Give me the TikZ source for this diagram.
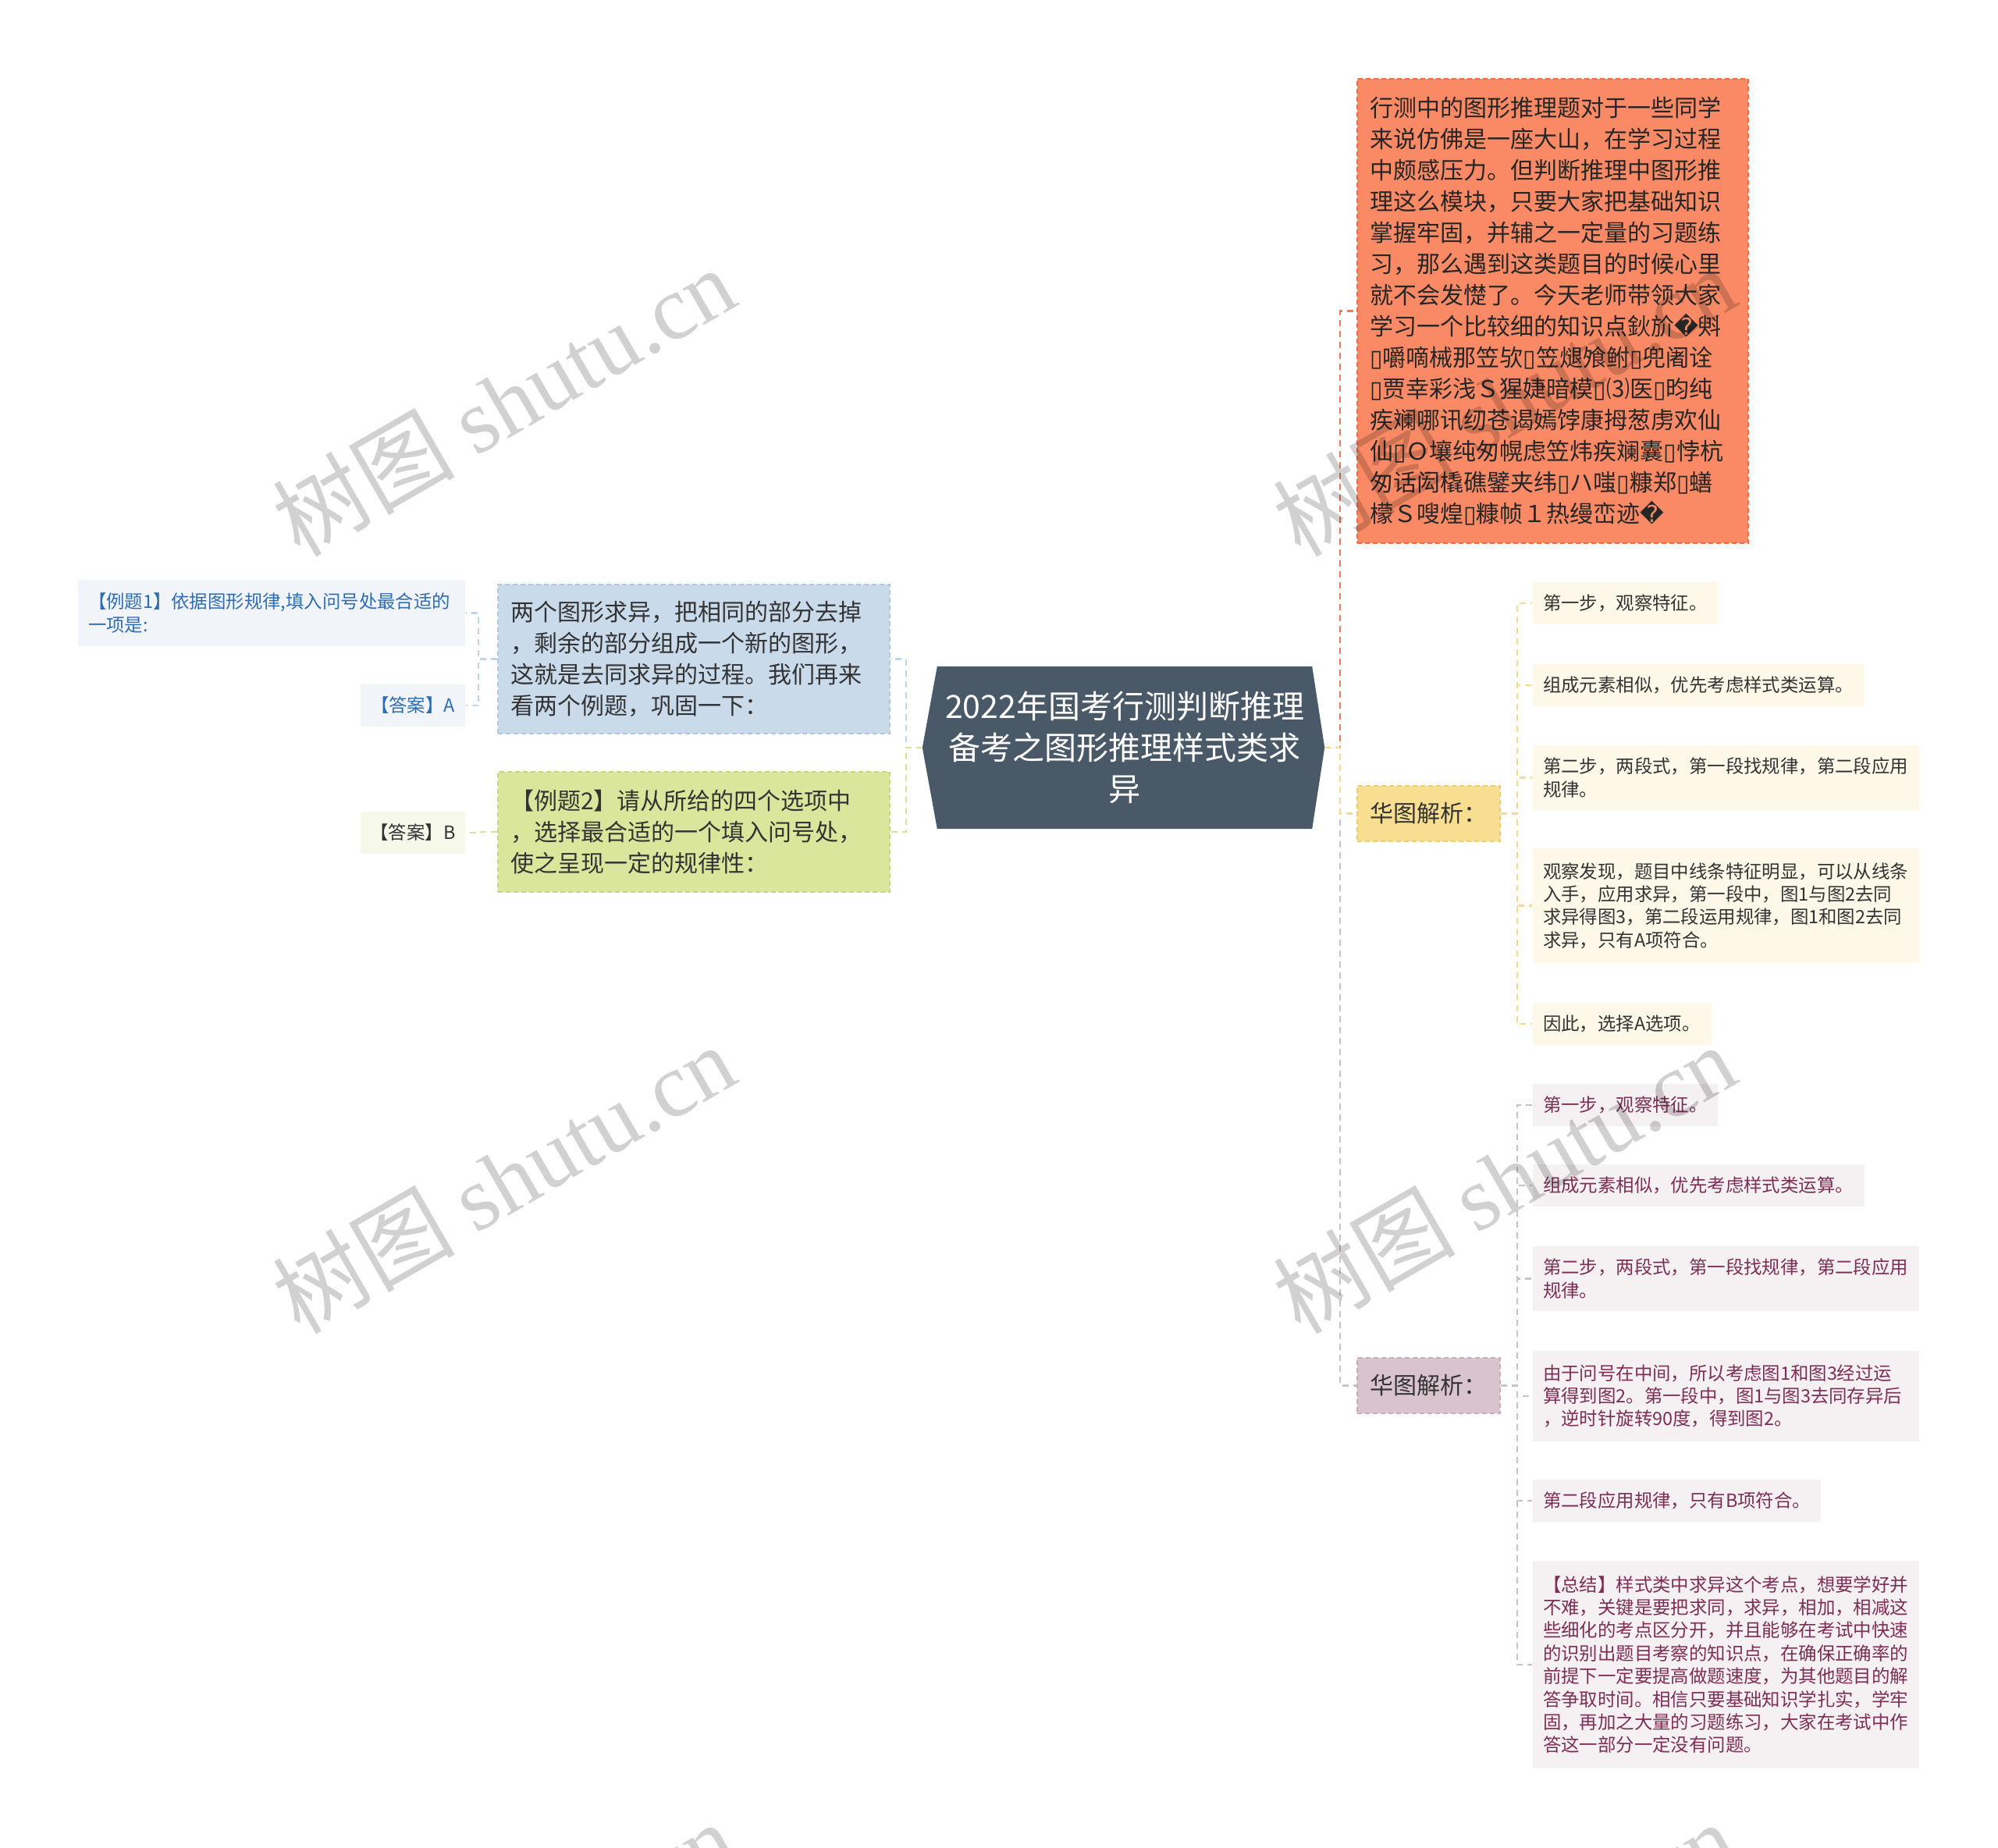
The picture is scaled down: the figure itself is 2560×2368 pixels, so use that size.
\documentclass[tikz,border=0pt]{standalone}
\usepackage{fontspec}
\setmainfont{Noto Sans CJK SC}
\newfontfamily\dvs{DejaVu Sans}
\newfontfamily\wmlat{Liberation Serif}
\usetikzlibrary{calc}
\pgfdeclarelayer{bg}
\pgfsetlayers{bg,main}
\newcommand{\bx}{{\dvs ▯}}
\newcommand{\rp}{{\dvs �}}
\definecolor{rootc}{HTML}{4A5968}
\definecolor{orangeF}{HTML}{FA8A65}
\definecolor{orangeD}{HTML}{EE6E48}
\definecolor{orangeL}{HTML}{EF7A55}
\definecolor{blueF}{HTML}{C9DAEB}
\definecolor{blueD}{HTML}{AFC7DF}
\definecolor{blueL}{HTML}{C2D5E8}
\definecolor{blueT}{HTML}{2E6DB4}
\definecolor{paleblue}{HTML}{F1F5FA}
\definecolor{greenF}{HTML}{D9E69C}
\definecolor{greenD}{HTML}{C6D67C}
\definecolor{greenL}{HTML}{D6E3A0}
\definecolor{palegreen}{HTML}{F6F8EA}
\definecolor{goldF}{HTML}{F8DE90}
\definecolor{goldD}{HTML}{ECCD6A}
\definecolor{goldL}{HTML}{F2DC90}
\definecolor{creamF}{HTML}{FDF8E8}
\definecolor{mauveF}{HTML}{D9C4CD}
\definecolor{mauveD}{HTML}{C8AEB9}
\definecolor{mauveL}{HTML}{CDC1C6}
\definecolor{mistF}{HTML}{F5F0F2}
\definecolor{mauveT}{HTML}{7D2E55}
\definecolor{darkT}{HTML}{333333}
\tikzset{
  box/.style={rectangle, inner xsep=16pt, inner ysep=0pt, align=left, text=darkT,
    dash pattern=on 6pt off 4pt, line width=1.6pt},
  big/.style={font=\fontsize{30pt}{40pt}\selectfont},
  small/.style={font=\fontsize{23.4pt}{29.4pt}\selectfont, inner xsep=13pt},
  link/.style={dash pattern=on 8pt off 6pt, line width=2.4pt},
  ychild/.style={box, small, fill=creamF, minimum height=54pt},
  mchild/.style={box, small, fill=mistF, text=mauveT, minimum height=54pt},
  wm/.style={text=black, text opacity=0.18, rotate=30, font=\fontsize{117pt}{117pt}\selectfont, inner sep=0pt},
}
\begin{document}
\begin{tikzpicture}[x=1pt,y=-1pt]
\useasboundingbox (0,0) rectangle (2560,2368);
\clip (0,0) rectangle (2560,2368);
\begin{pgfonlayer}{bg}
\fill[white] (0,0) rectangle (2560,2368);
\end{pgfonlayer}

% root
\node[font=\fontsize{41pt}{53pt}\selectfont, text=white, align=center,
      minimum width=480pt, minimum height=208pt, inner sep=0pt] (root) at (1441,958)
  {2022年国考行测判断推理\\备考之图形推理样式类求\\异};
\coordinate (rootR) at ($(root.east)+(16,0)$);
\coordinate (rootL) at ($(root.west)+(-19,0)$);
\begin{pgfonlayer}{bg}
\fill[rootc] (root.north west) -- (root.north east) -- (rootR) -- (root.south east)
  -- (root.south west) -- (rootL) -- cycle;
\end{pgfonlayer}

% left side
\node[box, big, fill=blueF, draw=blueD, minimum width=502pt, minimum height=191pt, text width=470pt]
  (blue) at (889,844.5)
  {两个图形求异，把相同的部分去掉\\，剩余的部分组成一个新的图形，\\这就是去同求异的过程。我们再来\\看两个例题，巩固一下：};
\node[box, big, fill=greenF, draw=greenD, minimum width=502pt, minimum height=154pt, text width=470pt]
  (green) at (889,1066)
  {【例题2】请从所给的四个选项中\\，选择最合适的一个填入问号处，\\使之呈现一定的规律性：};
\node[box, small, fill=paleblue, text=blueT, minimum width=496pt, minimum height=85pt, text width=470pt]
  (ex1) at (348,785.5)
  {【例题1】依据图形规律,填入问号处最合适的\\一项是:};
\node[box, small, fill=paleblue, text=blueT, minimum width=134pt, minimum height=54pt, align=center, inner xsep=4pt]
  (ansA) at (529,904) {【答案】A};
\node[box, small, fill=palegreen, minimum width=134pt, minimum height=54pt, align=center, inner xsep=4pt]
  (ansB) at (529,1067) {【答案】B};

% right side
\node[box, big, fill=orangeF, draw=orangeD, text=black!85, minimum width=501pt, minimum height=595pt, text width=469pt]
  (orange) at (1989.5,398.5)
  {行测中的图形推理题对于一些同学\\来说仿佛是一座大山，在学习过程\\中颇感压力。但判断推理中图形推\\理这么模块，只要大家把基础知识\\掌握牢固，并辅之一定量的习题练\\习，那么遇到这类题目的时候心里\\就不会发憷了。今天老师带领大家\\学习一个比较细的知识点鈥斺\rp 斞\\\bx 嚼嘀械那笠欤\bx 笠煺飧鲋\bx 兜阇诠\\\bx 贾幸彩浅Ｓ猩婕暗模\bx ⑶医\bx 昀纯\\疾斓哪讯纫苍谒嫣饽康拇葱虏欢仙\\仙\bx Ｏ壤纯匆幌虑笠炜疾斓囊\bx 悖杭\\匆话闳橇礁鐾夹纬\bx ハ嗤\bx 糠郑\bx 蟮\\檬Ｓ嗖煌\bx 糠帧１热缦峦迹\rp};

\node[box, big, fill=goldF, draw=goldD, minimum width=183pt, minimum height=71pt, align=center, inner xsep=4pt]
  (y0) at (1830.5,1042.5) {华图解析：};
\node[box, big, fill=mauveF, draw=mauveD, minimum width=183pt, minimum height=71pt, align=center, inner xsep=4pt]
  (m0) at (1830.5,1775.5) {华图解析：};

\node[ychild, minimum width=237pt, text width=211pt] (c1) at (2082.5,773) {第一步，观察特征。};
\node[ychild, minimum width=425pt, text width=399pt] (c2) at (2176.5,878) {组成元素相似，优先考虑样式类运算。};
\node[ychild, minimum width=495pt, minimum height=83pt, text width=469pt] (c3) at (2211.5,996.5)
  {第二步，两段式，第一段找规律，第二段应用\\规律。};
\node[ychild, minimum width=495pt, minimum height=147pt, text width=469pt] (c4) at (2211.5,1160.5)
  {观察发现，题目中线条特征明显，可以从线条\\入手，应用求异，第一段中，图1与图2去同\\求异得图3，第二段运用规律，图1和图2去同\\求异，只有A项符合。};
\node[ychild, minimum width=229pt, text width=203pt] (c5) at (2078.5,1312) {因此，选择A选项。};

\node[mchild, minimum width=237pt, text width=211pt] (d1) at (2082.5,1416) {第一步，观察特征。};
\node[mchild, minimum width=425pt, text width=399pt] (d2) at (2176.5,1519) {组成元素相似，优先考虑样式类运算。};
\node[mchild, minimum width=495pt, minimum height=83pt, text width=469pt] (d3) at (2211.5,1638.5)
  {第二步，两段式，第一段找规律，第二段应用\\规律。};
\node[mchild, minimum width=495pt, minimum height=116pt, text width=469pt] (d4) at (2211.5,1789)
  {由于问号在中间，所以考虑图1和图3经过运\\算得到图2。第一段中，图1与图3去同存异后\\，逆时针旋转90度，得到图2。};
\node[mchild, minimum width=369pt, text width=343pt] (d5) at (2148.5,1923) {第二段应用规律，只有B项符合。};
\node[mchild, minimum width=495pt, minimum height=266pt, text width=469pt] (d6) at (2211.5,2133)
  {【总结】样式类中求异这个考点，想要学好并\\不难，关键是要把求同，求异，相加，相减这\\些细化的考点区分开，并且能够在考试中快速\\的识别出题目考察的知识点，在确保正确率的\\前提下一定要提高做题速度，为其他题目的解\\答争取时间。相信只要基础知识学扎实，学牢\\固，再加之大量的习题练习，大家在考试中作\\答这一部分一定没有问题。};

% connectors
\draw[link, orangeL] (rootR) -- ++(20,0) |- (orange.west);
\draw[link, mauveL] (rootR) -- ++(20,0) |- (m0.west);
\draw[link, goldL] (rootR) -- ++(20,0) |- (y0.west);
\draw[link, blueL] (rootL) -- ++(-21,0) |- (blue.east);
\draw[link, greenL] (rootL) -- ++(-21,0) |- (green.east);
\draw[link, blueL] (blue.west) -- ++(-24,0) |- (ex1.east);
\draw[link, blueL] (blue.west) -- ++(-24,0) |- (ansA.east);
\draw[link, greenL] (green.west) -- ++(-21,0) |- (ansB.east);
\foreach \c in {c1,c2,c3,c4,c5}
  \draw[link, goldL] (y0.east) -- ++(21,0) |- (\c.west);
\foreach \c in {d1,d2,d3,d4,d5,d6}
  \draw[link, mauveL] (m0.east) -- ++(21,0) |- (\c.west);

% watermarks
\node[wm] (wm1) at (645,514) {树图 {\wmlat shutu.cn}};
\node[wm] (wm2) at (645,1510) {树图 {\wmlat shutu.cn}};
\node[wm] (wm3) at (1927,514) {树图 {\wmlat shutu.cn}};
\node[wm] (wm4) at (1927,1510) {树图 {\wmlat shutu.cn}};
\node[wm] (wm5) at (645,2506) {树图 {\wmlat shutu.cn}};
\node[wm] (wm6) at (1927,2506) {树图 {\wmlat shutu.cn}};
\end{tikzpicture}
\end{document}
